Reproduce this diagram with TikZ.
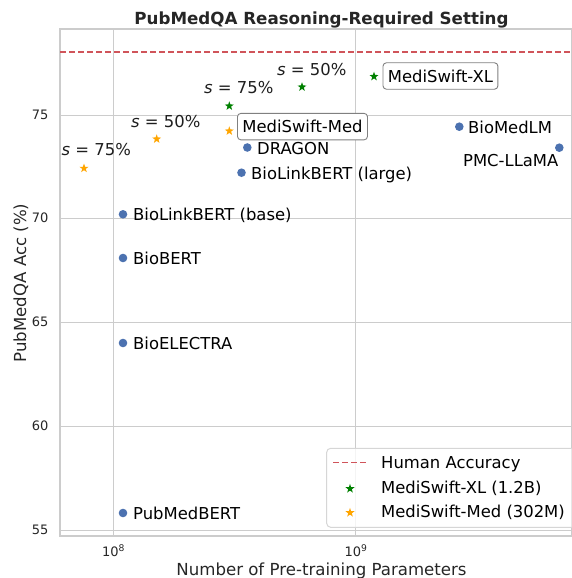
\documentclass[tikz,border=0pt]{standalone}
\usepackage{fontspec}
\setmainfont{DejaVu Sans}
\usetikzlibrary{shapes.geometric}
\definecolor{sbblue}{HTML}{4C72B0}
\definecolor{gridc}{HTML}{CCCCCC}
\definecolor{tickc}{HTML}{262626}
\definecolor{humanred}{HTML}{D0545A}
\definecolor{xlgreen}{HTML}{008000}
\definecolor{medorange}{HTML}{FFA500}
\definecolor{boxc}{HTML}{808080}
\tikzset{
  dot/.style={circle,fill=sbblue,inner sep=0pt,minimum size=8.6pt},
  xlstar/.style={star,star points=5,star point ratio=2.5,fill=xlgreen,inner sep=0pt,minimum size=9.5pt},
  medstar/.style={star,star points=5,star point ratio=2.5,fill=medorange,inner sep=0pt,minimum size=9.5pt},
  lab/.style={font=\fontsize{16.4}{18}\selectfont,text=black,inner sep=0pt,anchor=base west},
  slab/.style={font=\fontsize{16.4}{18}\selectfont,text=tickc!80!black,inner sep=0pt,anchor=base west},
  ticklab/.style={font=\fontsize{13}{15}\selectfont,text=tickc,inner sep=0pt},
  axlab/.style={font=\fontsize{16.6}{18}\selectfont,text=tickc,inner sep=0pt},
  gridline/.style={draw=gridc,line width=1pt},
  boxlab/.style={draw=boxc,line width=0.9pt,rounded corners=3.5pt,fill=white,font=\fontsize{16.4}{18}\selectfont,inner xsep=5pt,inner ysep=0pt,minimum height=26.5pt,anchor=west},
  humanline/.style={draw=humanred,line width=1.7pt,dash pattern=on 6.3pt off 2.7pt}
}
\begin{document}
\begin{tikzpicture}[x=1pt,y=-1pt]
\useasboundingbox (0,0) rectangle (572,578);
% grid
\coordinate (fl) at (60,29);
\coordinate (fr) at (571.5,536);
\foreach \yy/\lab in {530/55,426/60,322/65,218/70,115/75}{
  \draw[gridline] (60,\yy) -- (571.5,\yy);
  \node[ticklab,anchor=east] (yt\lab) at (48.5,\yy) {\lab};
}
\foreach \xx/\e in {113.3/8,355.8/9}{
  \draw[gridline] (\xx,29) -- (\xx,536);
  \node[ticklab,anchor=base] (xt\e) at (\xx,556.5) {10\raisebox{5.2pt}{\fontsize{9.2}{10}\selectfont\e}};
}
% frame
\draw[draw=gridc,line width=1.25pt] (fl) rectangle (fr);
% title and axis labels
\node[font=\fontsize{16.7}{18}\selectfont\bfseries,text=tickc,inner sep=0pt,anchor=base] (title) at (321.5,24.5) {PubMedQA Reasoning-Required Setting};
\node[axlab,anchor=base] (xlabel) at (321.5,575) {Number of Pre-training Parameters};
\node[axlab,rotate=90,anchor=base] (ylabel) at (26,283) {PubMedQA Acc (\%)};
% human accuracy
\coordinate (h1) at (60,52.3);
\coordinate (h2) at (571.5,52.3);
\draw[humanline] (h1) -- (h2);
% baseline models
\node[dot] (pubmedbert) at (123,513) {};
\node[lab] (pubmedbertl) at (133,519.5) {PubMedBERT};
\node[dot] (bioelectra) at (123,343) {};
\node[lab] (bioelectral) at (133,349.5) {BioELECTRA};
\node[dot] (biobert) at (123,258) {};
\node[lab] (biobertl) at (133,264) {BioBERT};
\node[dot] (blbbase) at (123,214.3) {};
\node[lab] (blbbasel) at (133,220.5) {BioLinkBERT (base)};
\node[dot] (blblarge) at (241.5,172.7) {};
\node[lab] (blblargel) at (251,179) {BioLinkBERT (large)};
\node[dot] (dragon) at (247.3,147.5) {};
\node[lab] (dragonl) at (257,154) {DRAGON};
\node[dot] (biomedlm) at (459.3,126.7) {};
\node[lab] (biomedlml) at (468,133) {BioMedLM};
\node[dot] (pmcllama) at (559.3,147.7) {};
\node[lab,anchor=base east] (pmcllamal) at (558.5,166.7) {PMC-LLaMA};
% MediSwift-XL
\node[xlstar] (xl100) at (374,76.5) {};
\node[xlstar] (xl50) at (302,87) {};
\node[xlstar] (xl25) at (229.3,106) {};
\node[boxlab] (xlbox) at (382.5,76) {MediSwift-XL};
\node[slab] (xls50) at (277,75) {\textit{s} = 50\%};
\node[slab] (xls75) at (204,93) {\textit{s} = 75\%};
% MediSwift-Med
\node[medstar] (med100) at (229.3,131) {};
\node[medstar] (med50) at (156.7,139) {};
\node[medstar] (med25) at (84,168.3) {};
\node[boxlab] (medbox) at (237,126.6) {MediSwift-Med};
\node[slab] (meds50) at (131,127) {\textit{s} = 50\%};
\node[slab] (meds75) at (61.5,155.5) {\textit{s} = 75\%};
% legend
\begin{scope}
\clip (0,0) rectangle (571.5,578);
\draw[draw=gridc!80!white,line width=1pt,rounded corners=4pt,fill=white,fill opacity=0.8] (326.7,448.3) rectangle (580,527.3);
\end{scope}
\coordinate (lg1) at (333,462.5);
\coordinate (lg2) at (367,462.5);
\draw[humanline] (lg1) -- (lg2);
\node[lab] (lgh) at (381,468.3) {Human Accuracy};
\node[xlstar] (lgxlm) at (350,488.7) {};
\node[lab] (lgxl) at (381,493.3) {MediSwift-XL (1.2B)};
\node[medstar] (lgmedm) at (350,512.7) {};
\node[lab] (lgmed) at (381,517.3) {MediSwift-Med (302M)};
\end{tikzpicture}
\end{document}
